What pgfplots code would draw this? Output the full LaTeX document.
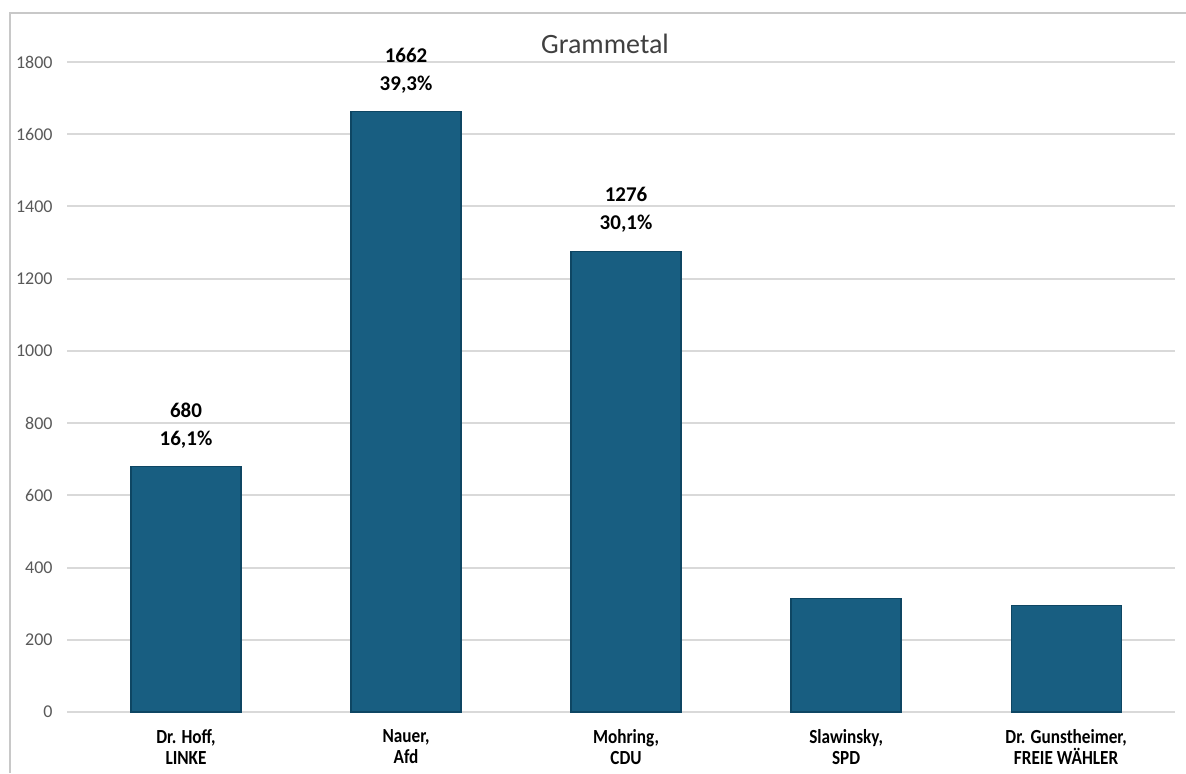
\documentclass[border=0pt]{standalone}
\usepackage{fontspec}
\setmainfont{Carlito}
\newfontfamily\catfont[FakeStretch=0.86]{Carlito}
\usepackage{pgfplots}
\pgfplotsset{compat=1.18}
\definecolor{barfill}{RGB}{24,94,129}
\definecolor{baredge}{RGB}{14,70,99}
\definecolor{gridgray}{RGB}{217,217,217}
\definecolor{ticktext}{RGB}{89,89,89}
\definecolor{titletext}{RGB}{64,64,64}
\definecolor{framegray}{RGB}{200,200,200}
\begin{document}
\begin{tikzpicture}
% 1 px of the reference = 0.5pt
\useasboundingbox (0,0) rectangle (593pt,386.5pt);
\fill[white] (0,0) rectangle (593pt,386.5pt);
\draw[framegray, line width=1pt] (5pt,0) -- (5pt,380pt) -- (593pt,380pt);
\begin{axis}[
    at={(33.5pt,30.5pt)}, anchor=south west,
    scale only axis,
    width=554pt, height=325pt,
    xmin=-0.541, xmax=4.495,
    ymin=0, ymax=1800,
    ytick={0,200,...,1800},
    xtick={0,1,2,3,4},
    xticklabels={{Dr. Hoff,\\LINKE},{Nauer,\\Afd},{Mohring,\\CDU},{Slawinsky,\\SPD},{Dr. Gunstheimer,\\FREIE WÄHLER}},
    ymajorgrids=true,
    grid style={gridgray, line width=1pt},
    axis line style={draw=none},
    major tick length=0pt,
    clip=false,
    /pgf/number format/assume math mode=true,
    /pgf/number format/set thousands separator={},
    yticklabel style={font=\fontsize{9}{10}\selectfont, text=ticktext, anchor=east, inner sep=0pt, xshift=-7pt},
    xticklabel style={font=\catfont\bfseries\fontsize{10}{10.5}\selectfont, align=center, anchor=north, inner sep=0pt, yshift=-8.5pt},
    point meta=explicit symbolic,
    nodes near coords,
    every node near coord/.append style={font=\bfseries\fontsize{10.5}{14}\selectfont, align=center, anchor=south, inner sep=0pt, yshift=9pt, text=black},
]
\addplot[ybar, bar width=55pt, fill=barfill, draw=baredge, line width=0.6pt]
    coordinates {
      (0,680) [{680\\16,1\%}]
      (1,1662) [{1662\\39,3\%}]
      (2,1276) [{1276\\30,1\%}]
      (3,315) [{}]
      (4,296) [{}]
    };
\end{axis}
\node[font=\fontsize{14}{16}\selectfont, text=titletext, anchor=base] at (302.5pt,359.5pt) {Grammetal};
\end{tikzpicture}
\end{document}
